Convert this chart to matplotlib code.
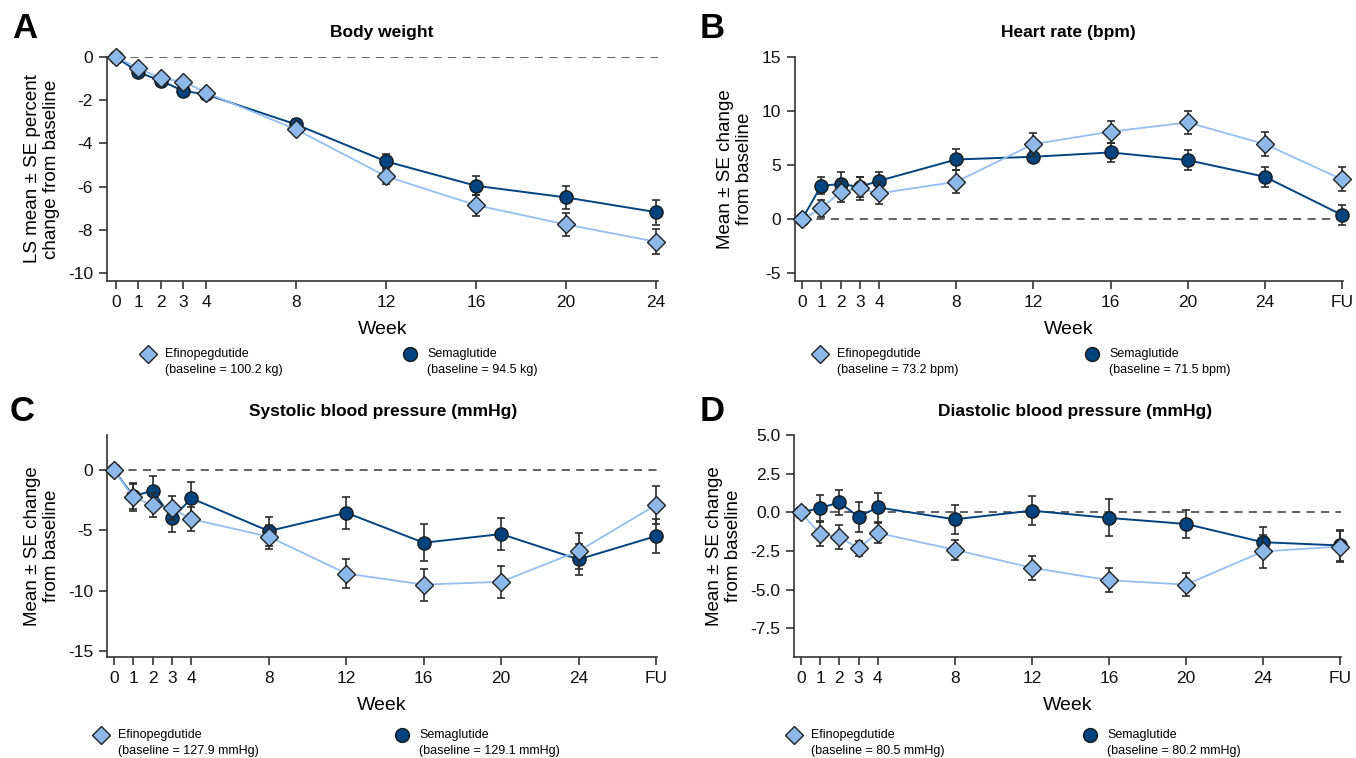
import matplotlib
matplotlib.use("Agg")
import matplotlib.pyplot as plt
from matplotlib.lines import Line2D
import numpy as np

plt.rcParams['font.family'] = ['Liberation Sans', 'DejaVu Sans']

# ---------------- data ----------------
weeks_a = [0, 1, 2, 3, 4, 8, 12, 16, 20, 24]
weeks_fu = [0, 1, 2, 3, 4, 8, 12, 16, 20, 24, 28]   # 28 = FU position
tick_labels_a = ["0", "1", "2", "3", "4", "8", "12", "16", "20", "24"]
tick_labels_fu = ["0", "1", "2", "3", "4", "8", "12", "16", "20", "24", "FU"]

# A: Body weight (% change)
bw_efino = [0, -0.52, -0.99, -1.14, -1.65, -3.35, -5.52, -6.86, -7.75, -8.55]
bw_efino_se = [0.05, 0.08, 0.1, 0.1, 0.12, 0.2, 0.38, 0.49, 0.52, 0.59]
bw_sema = [0, -0.71, -1.1, -1.57, -1.73, -3.12, -4.83, -5.96, -6.5, -7.18]
bw_sema_se = [0.05, 0.08, 0.1, 0.1, 0.12, 0.25, 0.35, 0.45, 0.54, 0.58]

# B: Heart rate (bpm)
hr_efino = [0, 1.01, 2.55, 2.86, 2.4, 3.47, 6.95, 8.1, 8.95, 6.95, 3.69]
hr_efino_se = [0.05, 0.8, 0.97, 1.07, 1.03, 1.07, 1.06, 1.03, 1.1, 1.12, 1.1]
hr_sema = [0, 3.1, 3.26, 3.0, 3.56, 5.53, 5.78, 6.18, 5.47, 3.93, 0.4]
hr_sema_se = [0.05, 0.8, 1.1, 0.9, 0.8, 1.0, 0.52, 0.9, 0.9, 0.9, 0.9]

# C: Systolic BP (mmHg)
sbp_efino = [0, -2.27, -2.9, -3.18, -4.07, -5.53, -8.58, -9.5, -9.27, -6.72, -2.9]
sbp_efino_se = [0.05, 1.1, 0.97, 1.0, 0.97, 1.0, 1.24, 1.33, 1.33, 1.5, 1.6]
sbp_sema = [0, -2.16, -1.72, -4.0, -2.35, -5.06, -3.54, -6.03, -5.31, -7.41, -5.48]
sbp_sema_se = [0.05, 1.1, 1.2, 1.1, 1.33, 1.2, 1.34, 1.55, 1.29, 1.29, 1.38]

# D: Diastolic BP (mmHg)
dbp_efino = [0, -1.39, -1.6, -2.31, -1.33, -2.42, -3.58, -4.39, -4.67, -2.53, -2.21]
dbp_efino_se = [0.05, 0.78, 0.77, 0.48, 0.64, 0.64, 0.77, 0.77, 0.73, 1.06, 0.98]
dbp_sema = [0, 0.28, 0.64, -0.28, 0.32, -0.45, 0.11, -0.36, -0.75, -1.93, -2.14]
dbp_sema_se = [0.05, 0.84, 0.8, 0.96, 0.96, 0.93, 0.93, 1.2, 0.91, 0.96, 1.0]

baselines_efino = ["100.2 kg", "73.2 bpm", "127.9 mmHg", "80.5 mmHg"]
baselines_sema = ["94.5 kg", "71.5 bpm", "129.1 mmHg", "80.2 mmHg"]
titles = ["Body weight", "Heart rate (bpm)", "Systolic blood pressure (mmHg)",
          "Diastolic blood pressure (mmHg)"]
letters = ["A", "B", "C", "D"]

# ---------------- style ----------------
C_EFINO = "#8cb9e9"
C_EFINO_LINE = "#93bff0"
C_SEMA = "#00437f"
C_ERR = "#2b2b2b"

W, H = 1356, 758
fig = plt.figure(figsize=(W / 100, H / 100), dpi=100)

def fx(px):
    return px / W

def fy(py):
    return 1 - py / H

def make_ax(l, r, t, b):
    return fig.add_axes([fx(l), fy(b), fx(r) - fx(l), fy(t) - fy(b)])

panels = [
    dict(box=(107, 658, 57, 281), x=weeks_a, xl=tick_labels_a, xlim=(-0.4, 24.1),
         ylim=(-10.37, 0), yticks=[0, -2, -4, -6, -8, -10], yfmt="{:.0f}",
         e=bw_efino, ee=bw_efino_se, s=bw_sema, se=bw_sema_se,
         ylabel="LS mean ± SE percent\nchange from baseline"),
    dict(box=(795, 1343, 57, 281), x=weeks_fu, xl=tick_labels_fu, xlim=(-0.36, 28.05),
         ylim=(-5.7, 15), yticks=[15, 10, 5, 0, -5], yfmt="{:.0f}",
         e=hr_efino, ee=hr_efino_se, s=hr_sema, se=hr_sema_se,
         ylabel="Mean ± SE change\nfrom baseline"),
    dict(box=(107, 657, 435, 657), x=weeks_fu, xl=tick_labels_fu, xlim=(-0.36, 28.05),
         ylim=(-15.5, 2.9), yticks=[0, -5, -10, -15], yfmt="{:.0f}",
         e=sbp_efino, ee=sbp_efino_se, s=sbp_sema, se=sbp_sema_se,
         ylabel="Mean ± SE change\nfrom baseline"),
    dict(box=(794, 1341, 435, 657), x=weeks_fu, xl=tick_labels_fu, xlim=(-0.35, 28.05),
         ylim=(-9.35, 5.0), yticks=[5.0, 2.5, 0.0, -2.5, -5.0, -7.5], yfmt="{:.1f}",
         e=dbp_efino, ee=dbp_efino_se, s=dbp_sema, se=dbp_sema_se,
         ylabel="Mean ± SE change\nfrom baseline"),
]

title_pos = [(382, 32), (1068, 32), (383, 411), (1075, 411)]
letter_pos = [(25, 29), (712, 29), (22, 411), (712, 411)]
leg_pos = [((148, 354), (410, 354)), ((820, 354), (1092, 354)),
           ((101, 735), (402, 735)), ((794, 735), (1090, 735))]

for i, p in enumerate(panels):
    l, r, t, b = p["box"]
    ax = make_ax(l, r, t, b)
    x = np.array(p["x"], dtype=float)
    ax.axhline(0, xmin=(0 - p["xlim"][0]) / (p["xlim"][1] - p["xlim"][0]), xmax=1,
               color="#555555", lw=1.3, ls=(0, (4.5, 3.5)), zorder=1)
    # semaglutide
    ax.errorbar(x, p["s"], yerr=p["se"], fmt="none", ecolor=C_ERR, elinewidth=1.2,
                capsize=3.0, capthick=1.2, zorder=2, clip_on=False)
    ax.plot(x, p["s"], color=C_SEMA, lw=1.4, marker="o", ms=9.5, mfc=C_SEMA,
            mec="#1a1a1a", mew=1.0, zorder=3, clip_on=False)
    # efinopegdutide
    ax.errorbar(x, p["e"], yerr=p["ee"], fmt="none", ecolor=C_ERR, elinewidth=1.2,
                capsize=3.0, capthick=1.2, zorder=4, clip_on=False)
    ax.plot(x, p["e"], color=C_EFINO_LINE, lw=1.3, marker="D", ms=9.5, mfc=C_EFINO,
            mec="#222222", mew=1.0, zorder=5, clip_on=False)

    ax.set_xlim(*p["xlim"])
    ax.set_ylim(*p["ylim"])
    ax.set_xticks(x)
    ax.set_xticklabels(p["xl"])
    ax.set_yticks(p["yticks"])
    ax.set_yticklabels([p["yfmt"].format(v) for v in p["yticks"]])
    for s in ["top", "right"]:
        ax.spines[s].set_visible(False)
    for s in ["left", "bottom"]:
        ax.spines[s].set_linewidth(1.2)
        ax.spines[s].set_color("#333333")
    ax.tick_params(axis="both", labelsize=12.5, length=6, width=1.2, color="#333333",
                   labelcolor="#111111", pad=4)
    ax.set_xlabel("Week", fontsize=14, labelpad=8)
    ax.set_ylabel(p["ylabel"], fontsize=13.5, labelpad=6, linespacing=1.15)

    tx, ty = title_pos[i]
    fig.text(fx(tx), fy(ty), titles[i], ha="center", va="center", fontsize=12.5,
             fontweight="bold")
    lx, ly = letter_pos[i]
    fig.text(fx(lx), fy(ly), letters[i], ha="center", va="center", fontsize=25,
             fontweight="bold")

    (dx, dy), (cx, cy) = leg_pos[i]
    fig.add_artist(Line2D([fx(dx)], [fy(dy)], transform=fig.transFigure, marker="D",
                          ms=9, mfc=C_EFINO, mec="#222222", mew=1.0, ls="none"))
    fig.add_artist(Line2D([fx(cx)], [fy(cy)], transform=fig.transFigure, marker="o",
                          ms=10, mfc=C_SEMA, mec="#1a1a1a", mew=1.0, ls="none"))
    fam = ["Liberation Sans Narrow", "Liberation Sans", "DejaVu Sans"]
    fig.text(fx(dx + 17), fy(dy - 6), "Efinopegdutide\n(baseline = %s)" % baselines_efino[i],
             ha="left", va="top", fontsize=9, family=fam, linespacing=1.4)
    fig.text(fx(cx + 17), fy(cy - 6), "Semaglutide\n(baseline = %s)" % baselines_sema[i],
             ha="left", va="top", fontsize=9, family=fam, linespacing=1.4)

fig.savefig("out.png", dpi=100)
